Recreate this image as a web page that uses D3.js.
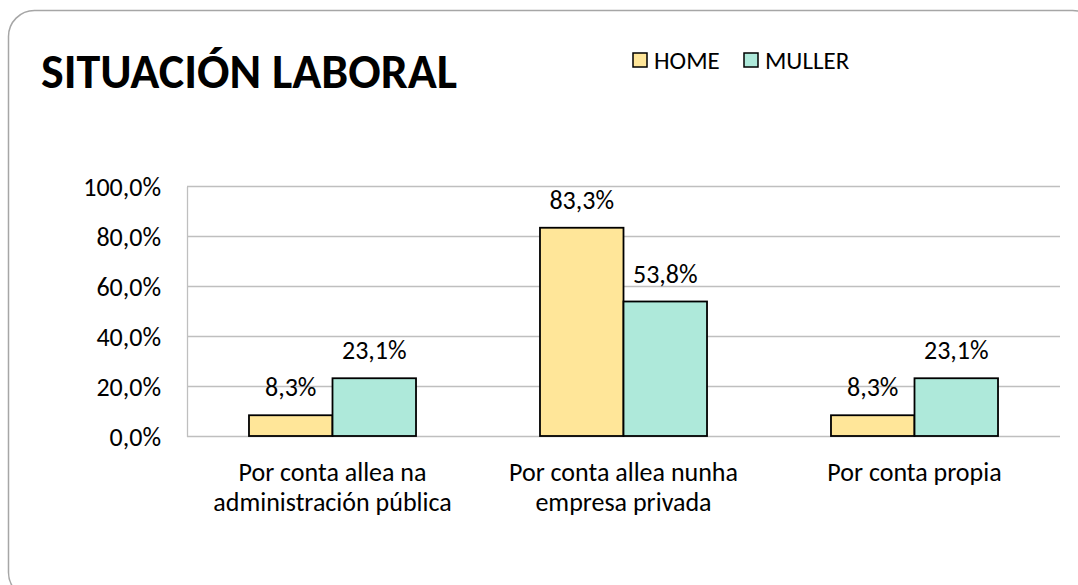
<!DOCTYPE html>
<html>
<head>
<meta charset="utf-8">
<script src="https://cdn.jsdelivr.net/npm/d3@7"></script>
<style>
  body { margin: 0; background: #fff; }
  text { font-family: Carlito, Calibri, Lato, sans-serif; fill: #000; }
</style>
</head>
<body>
<div id="chart"></div>
<script>
const categories = [
    ['Por conta allea na', 'administración pública'],
    ['Por conta allea nunha', 'empresa privada'],
    ['Por conta propia']
];
const seriesNames = ['HOME', 'MULLER'];
const home = [8.3, 83.3, 8.3];
const muller = [23.1, 53.8, 23.1];
const yTicks = [0, 20, 40, 60, 80, 100];

const colors = { HOME: '#FFE699', MULLER: '#AEE9DA' };

const size = { width: 1078, height: 585 };
const plot = { left: 187, right: 1060, top: 186, bottom: 436 };

const svg = d3.select('#chart')
    .append('svg')
    .attr('width', size.width)
    .attr('height', size.height);

// outer rounded frame
svg.append('rect')
    .attr('x', 8.5)
    .attr('y', 10.5)
    .attr('width', 1090)
    .attr('height', 588)
    .attr('rx', 26)
    .attr('fill', '#fff')
    .attr('stroke', '#a6a6a6')
    .attr('stroke-width', 1.5);

svg.append('text')
    .attr('x', 41)
    .attr('y', 88)
    .style('font-size', '48px')
    .style('font-weight', 'bold')
    .text('SITUACIÓN LABORAL');

const rows = categories.map((c, i) => ({ idx: i, values: [home[i], muller[i]] }));

const x0 = d3.scaleBand()
    .domain(d3.range(categories.length))
    .range([plot.left, plot.right])
    .paddingInner(0.426)
    .paddingOuter(0.213);

const x1 = d3.scaleBand()
    .domain(seriesNames)
    .range([0, x0.bandwidth()]);

const y = d3.scaleLinear()
    .domain([0, 100])
    .range([plot.bottom, plot.top]);

// gridlines
svg.append('g')
    .selectAll('line')
    .data(yTicks)
    .enter()
    .append('line')
        .attr('x1', plot.left)
        .attr('x2', plot.right)
        .attr('y1', d => y(d) + 0.5)
        .attr('y2', d => y(d) + 0.5)
        .attr('stroke', '#bfbfbf')
        .attr('stroke-width', 1.3);

// y axis
const yAxis = d3.axisLeft(y)
    .tickValues(yTicks)
    .tickSize(0)
    .tickPadding(26)
    .tickFormat(d => d.toFixed(1).replace('.', ',') + '%');

const gy = svg.append('g')
    .attr('transform', `translate(${plot.left}, 0.5)`)
    .call(yAxis);
gy.select('.domain').attr('stroke', '#bfbfbf').attr('stroke-width', 1.3);
gy.selectAll('text')
    .style('font-size', '26px')
    .attr('fill', '#000')
    .attr('dy', '0.35em');

// bars
const groups = svg.append('g')
    .selectAll('g')
    .data(rows)
    .enter()
    .append('g')
        .attr('transform', d => `translate(${x0(d.idx)}, 0)`);

groups.selectAll('rect')
    .data(d => d.values.map((v, j) => ({ key: seriesNames[j], value: v })))
    .enter()
    .append('rect')
        .attr('x', d => x1(d.key))
        .attr('y', d => y(d.value))
        .attr('width', x1.bandwidth())
        .attr('height', d => y(0) - y(d.value))
        .attr('fill', d => colors[d.key])
        .attr('stroke', '#000')
        .attr('stroke-width', 1.8);

groups.selectAll('text.val')
    .data(d => d.values.map((v, j) => ({ key: seriesNames[j], value: v })))
    .enter()
    .append('text')
        .attr('class', 'val')
        .attr('x', d => x1(d.key) + x1.bandwidth() / 2)
        .attr('y', d => y(d.value) - 19)
        .attr('text-anchor', 'middle')
        .style('font-size', '26px')
        .text(d => d.value.toFixed(1).replace('.', ',') + '%');

// category labels
const catLabels = svg.append('g')
    .selectAll('text')
    .data(categories)
    .enter()
    .append('text')
        .attr('text-anchor', 'middle')
        .attr('transform', (d, i) => `translate(${x0(i) + x0.bandwidth() / 2}, 481)`)
        .style('font-size', '26px');

catLabels.selectAll('tspan')
    .data(d => d)
    .enter()
    .append('tspan')
        .attr('x', 0)
        .attr('y', (d, i) => i * 30)
        .text(d => d);

// legend
const legend = svg.append('g')
    .selectAll('g')
    .data(seriesNames)
    .enter()
    .append('g')
        .attr('transform', (d, i) => `translate(${i === 0 ? 633 : 744}, 53)`);

legend.append('rect')
    .attr('width', 14)
    .attr('height', 14)
    .attr('fill', d => colors[d])
    .attr('stroke', '#000')
    .attr('stroke-width', 1.5);

legend.append('text')
    .attr('x', 21)
    .attr('y', 16)
    .style('font-size', '25px')
    .attr('fill', '#222')
    .text(d => d);
</script>
</body>
</html>
